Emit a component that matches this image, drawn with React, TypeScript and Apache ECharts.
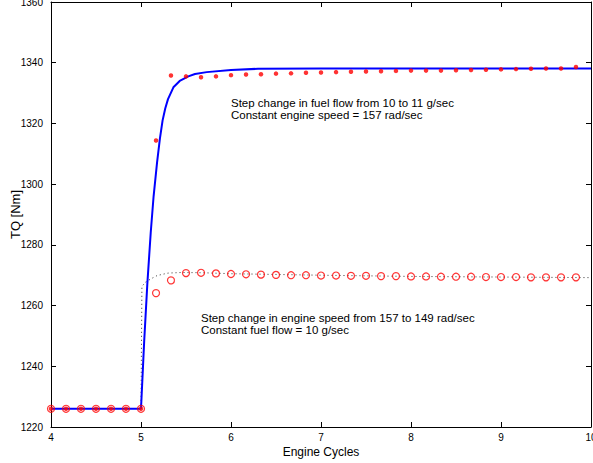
import React, { useEffect, useRef } from "react";
import * as echarts from "echarts";

// Sample instants (engine cycles) of the measured points
const sampleX = [
  4, 4.167, 4.333, 4.5, 4.667, 4.833, 5, 5.167, 5.333, 5.5, 5.667, 5.833, 6, 6.167, 6.333, 6.5, 6.667, 6.833,
  7, 7.167, 7.333, 7.5, 7.667, 7.833, 8, 8.167, 8.333, 8.5, 8.667, 8.833, 9, 9.167, 9.333, 9.5, 9.667, 9.833,
];
// Measured torque, step in fuel flow (filled red dots)
const fuelMeasured = [
  1226, 1226, 1226, 1226, 1226, 1226, 1226, 1314.4, 1335.8, 1335.5, 1335.2, 1335.5, 1335.9, 1336.1, 1336.2,
  1336.4, 1336.5, 1336.7, 1336.8, 1336.9, 1337.0, 1337.1, 1337.2, 1337.3, 1337.4, 1337.4, 1337.4, 1337.5,
  1337.6, 1337.7, 1337.8, 1337.9, 1338.0, 1338.1, 1338.1, 1338.6,
];
// Measured torque, step in engine speed (open red circles)
const speedMeasured = [
  1226, 1226, 1226, 1226, 1226, 1226, 1226, 1264.1, 1268.3, 1270.7, 1270.8, 1270.6, 1270.4, 1270.3, 1270.2,
  1270.1, 1270.0, 1270.0, 1269.9, 1269.9, 1269.8, 1269.8, 1269.7, 1269.7, 1269.6, 1269.6, 1269.5, 1269.5,
  1269.5, 1269.4, 1269.4, 1269.4, 1269.3, 1269.3, 1269.3, 1269.3,
];
// Model response, step in fuel flow (solid blue line)
const fuelModelX = [4, 5, 5.035, 5.07, 5.108, 5.14, 5.178, 5.21, 5.24, 5.27, 5.3, 5.36, 5.43, 5.526, 5.6, 5.73, 6, 6.3, 7, 8, 9, 10];
const fuelModelY = [1226, 1226, 1248, 1267, 1284, 1296, 1307, 1315, 1321, 1325, 1328, 1331.9, 1334, 1335.5, 1336.3, 1336.9, 1337.6, 1338, 1338.1, 1338.1, 1338.1, 1338.1];
// Model response, step in engine speed (dotted line)
const speedModelX = [5, 5.01, 5.05, 5.11, 5.18, 5.3, 5.45, 5.7, 6, 7, 8, 9, 10];
const speedModelY = [1226, 1266.3, 1267.7, 1268.8, 1269.9, 1270.7, 1270.9, 1270.8, 1270.5, 1270.0, 1269.6, 1269.4, 1269.2];

const xTicks = [4, 5, 6, 7, 8, 9, 10];
const FONT = '"Liberation Sans", Arial, Helvetica, sans-serif';

const annotations = [
  { text: "Step change in fuel flow from 10 to 11 g/sec", x: 231, y: 103 },
  { text: "Constant engine speed = 157 rad/sec", x: 231, y: 114.5 },
  { text: "Step change in engine speed from 157 to 149 rad/sec", x: 201, y: 318 },
  { text: "Constant fuel flow = 10 g/sec", x: 201, y: 329.5 },
];

export default function App() {
  const ref = useRef<HTMLDivElement>(null);
  useEffect(() => {
    if (!ref.current) return;
    const chart = echarts.init(ref.current, undefined, { renderer: "svg" });
    const zip = (xs: number[], ys: number[]) => xs.map((x, i) => [x, ys[i]]);
    const axisCommon = {
      type: "value" as const,
      axisLine: { show: true, lineStyle: { color: "#000", width: 1 } },
      axisTick: { show: true, inside: true, length: 5, lineStyle: { color: "#000" } },
      splitLine: { show: false },
    };
    chart.setOption({
      animation: false,
      backgroundColor: "#fff",
      textStyle: { fontFamily: FONT },
      grid: { left: 51, right: 2, top: 2, bottom: 36, containLabel: false, outerBoundsMode: "none" },
      xAxis: [
        {
          ...axisCommon,
          min: 4,
          max: 10,
          interval: 1,
          position: "bottom",
          name: "Engine Cycles",
          nameLocation: "middle",
          nameGap: 19,
          nameMoveOverlap: false,
          nameTextStyle: { color: "#000", fontSize: 12, fontFamily: FONT },
          axisLabel: {
            color: "#000",
            fontSize: 10,
            margin: 5,
            fontFamily: FONT,
            showMinLabel: true,
            showMaxLabel: true,
            formatter: (v: number) => (xTicks.includes(v) ? String(v) : ""),
          },
        },
        { ...axisCommon, min: 4, max: 10, interval: 1, position: "top", axisLabel: { show: false } },
      ],
      yAxis: [
        {
          ...axisCommon,
          min: 1220,
          max: 1360,
          interval: 20,
          position: "left",
          name: "TQ [Nm]",
          nameLocation: "middle",
          nameGap: 29,
          nameMoveOverlap: false,
          nameTextStyle: { color: "#000", fontSize: 13, fontFamily: FONT },
          axisLabel: {
            color: "#000",
            fontSize: 10,
            margin: 8,
            fontFamily: FONT,
            showMinLabel: true,
            showMaxLabel: true,
            formatter: (v: number) => String(v),
          },
        },
        { ...axisCommon, min: 1220, max: 1360, interval: 20, position: "right", axisLabel: { show: false } },
      ],
      series: [
        {
          type: "line",
          data: zip(speedModelX, speedModelY),
          symbol: "none",
          lineStyle: { color: "#333", width: 1, type: [1, 3] },
          z: 1,
        },
        {
          type: "line",
          data: zip(fuelModelX, fuelModelY),
          symbol: "none",
          lineStyle: { color: "#0000ff", width: 2 },
          z: 2,
        },
        {
          type: "scatter",
          data: zip(sampleX, fuelMeasured),
          symbol: "circle",
          symbolSize: 4.5,
          itemStyle: { color: "#ff0000" },
          z: 3,
        },
        {
          type: "scatter",
          data: zip(sampleX, speedMeasured),
          symbol: "circle",
          symbolSize: 7,
          itemStyle: { color: "rgba(0,0,0,0)", borderColor: "#ff0000", borderWidth: 1.2 },
          z: 4,
        },
      ],
      graphic: annotations.map((a) => ({
        type: "text",
        x: a.x,
        y: a.y,
        style: { text: a.text, fill: "#000", font: `11.5px ${FONT}`, verticalAlign: "middle" },
      })),
    });
    return () => chart.dispose();
  }, []);
  return (
    <div
      ref={ref}
      style={{ position: "fixed", left: 0, top: 0, width: 593, height: 463, background: "#fff" }}
    />
  );
}
